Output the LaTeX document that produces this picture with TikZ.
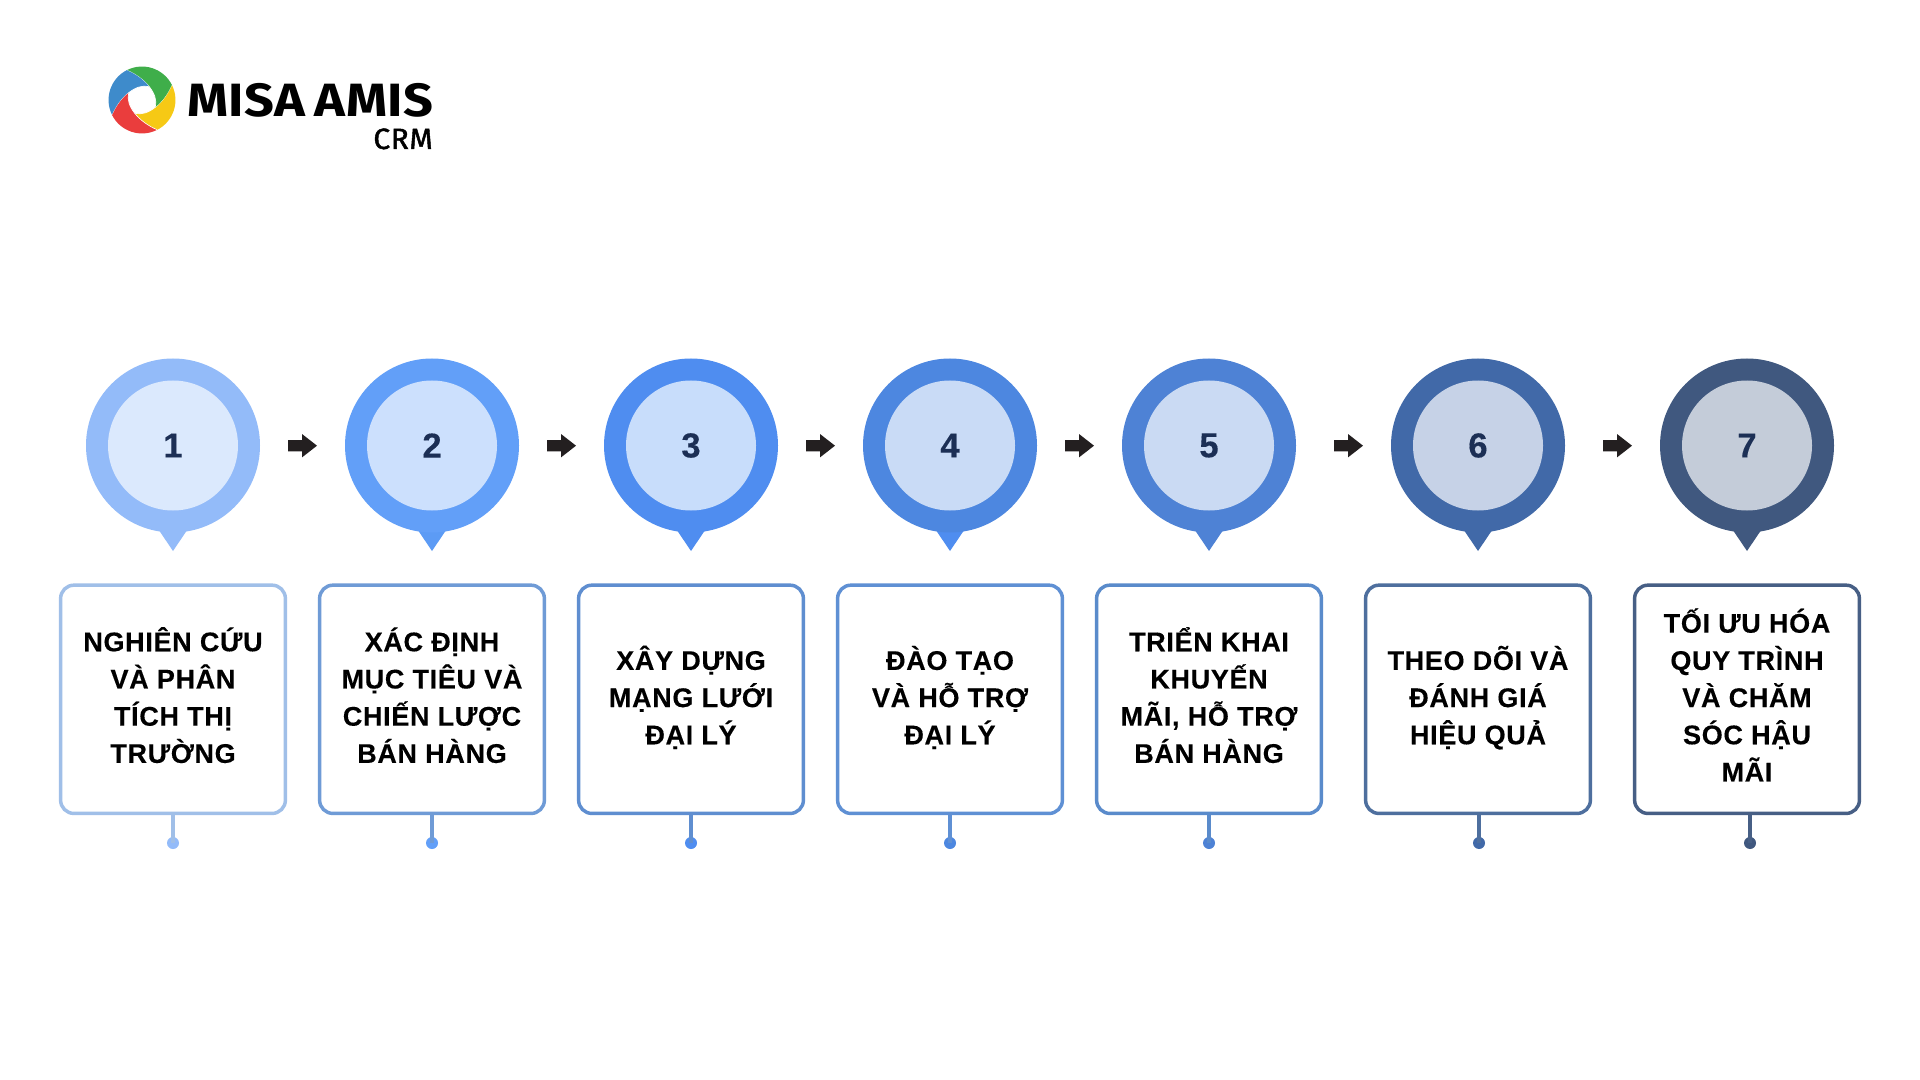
\documentclass[tikz,border=0pt]{standalone}
\usepackage{fontspec}
\setmainfont{Liberation Sans}[BoldFeatures={FakeBold=0.25}]
\newfontfamily\boxfont{Liberation Sans}[LetterSpace=2.5,BoldFeatures={FakeBold=0.25}]
\newfontfamily\logofont{Fira Sans}[FakeStretch=1.12,LetterSpace=1.2,WordSpace=0.7]
\newfontfamily\logosubfont{Fira Sans}[FakeBold=1.5,FakeStretch=1.02,LetterSpace=2]
\usetikzlibrary{calc}
\definecolor{ring1}{HTML}{93BBF9}\definecolor{inner1}{HTML}{DBE9FD}\definecolor{edge1}{HTML}{A0BFE8}\definecolor{tail1}{HTML}{93BBF9}
\definecolor{ring2}{HTML}{629FF8}\definecolor{inner2}{HTML}{CCE0FD}\definecolor{edge2}{HTML}{6F9BD6}\definecolor{tail2}{HTML}{5C9BF5}
\definecolor{ring3}{HTML}{4F8DF0}\definecolor{inner3}{HTML}{C8DDFB}\definecolor{edge3}{HTML}{5F8ED0}\definecolor{tail3}{HTML}{4F8DF0}
\definecolor{ring4}{HTML}{4D87E0}\definecolor{inner4}{HTML}{C9DBF6}\definecolor{edge4}{HTML}{5F90D4}\definecolor{tail4}{HTML}{4F8DF0}
\definecolor{ring5}{HTML}{4E82D5}\definecolor{inner5}{HTML}{CADAF3}\definecolor{edge5}{HTML}{5A8BCB}\definecolor{tail5}{HTML}{4E82D5}
\definecolor{ring6}{HTML}{4169A8}\definecolor{inner6}{HTML}{C6D2E7}\definecolor{edge6}{HTML}{4E6F9E}\definecolor{tail6}{HTML}{4169A8}
\definecolor{ring7}{HTML}{40587F}\definecolor{inner7}{HTML}{C4CCD9}\definecolor{edge7}{HTML}{475F85}\definecolor{tail7}{HTML}{40587F}
\definecolor{numink}{HTML}{1C2F55}
\definecolor{arrowink}{HTML}{231F20}
\definecolor{lgreen}{HTML}{3FAE4A}\definecolor{lblue}{HTML}{3E8BCB}\definecolor{lyellow}{HTML}{F6C915}\definecolor{lred}{HTML}{EA3D3D}
\tikzset{
  ringnode/.style={circle,inner sep=0pt,minimum size=130.5pt},
  innernode/.style={circle,inner sep=0pt,minimum size=97.5pt,text=numink,font=\bfseries\fontsize{26}{26}\selectfont},
  boxnode/.style={rectangle,draw,line width=2.6pt,rounded corners=10pt,fill=white,minimum width=168.6pt,minimum height=171.2pt,inner sep=0pt,align=center,text depth=0pt,font=\boxfont\bfseries\fontsize{20.25}{27.9}\selectfont,text=black},
  dotnode/.style={circle,inner sep=0pt,minimum size=9pt},
  stemline/.style={line width=2.7pt},
  blade/.pic={
    \fill[pic actions] (29.8,15.2) arc[start angle=27,end angle=-63,radius=33.5]
      .. controls (6.1,-25.9) and (-1.95,-19.95) .. (-7.16,-13.29)
      .. controls (6,-17) and (22,-3) .. (29.8,15.2) -- cycle;
    \draw[white,line width=.45pt] (-7.16,-13.29) .. controls (6,-17) and (22,-3) .. (29.8,15.2);
  }
}
\newcommand{\arrowglyph}[1]{\fill[arrowink] (#1,440) -- ++(14,0) -- ++(0,-6) -- ++(15,11.7) -- ++(-15,11.7) -- ++(0,-6) -- ++(-14,0) -- cycle;}
\begin{document}
\begin{tikzpicture}[x=.75pt,y=.75pt,yscale=-1]
\useasboundingbox (0,0) rectangle (1920,1080);
\fill[white] (0,0) rectangle (1920,1080);
% logo
\begin{scope}[shift={(142,100)},yscale=-1]
  \pic[fill=lyellow] at (0,0) {blade};
  \pic[fill=lgreen,rotate=90] at (0,0) {blade};
  \pic[fill=lblue,rotate=180] at (0,0) {blade};
  \pic[fill=lred,rotate=270] at (0,0) {blade};
\end{scope}
\node[anchor=base west,inner sep=0pt,font=\logofont\bfseries\fontsize{35}{35}\selectfont] (logotext) at (187,117) {MISA AMIS};
\node[anchor=base east,inner sep=0pt,font=\logosubfont\fontsize{22}{22}\selectfont] (logosub) at (433,149) {CRM};
% steps
\foreach \i/\cx/\dx/\th/\txt in {
 1/173/173/95.35/{NGHIÊN CỨU\\VÀ PHÂN\\TÍCH THỊ\\TRƯỜNG},
 2/432/432/95.35/{XÁC ĐỊNH\\MỤC TIÊU VÀ\\CHIẾN LƯỢC\\BÁN HÀNG},
 3/691/691/67.45/{XÂY DỰNG\\MẠNG LƯỚI\\ĐẠI LÝ},
 4/950/950/67.45/{ĐÀO TẠO\\VÀ HỖ TRỢ\\ĐẠI LÝ},
 5/1209/1209/95.35/{TRIỂN KHAI\\KHUYẾN\\MÃI, HỖ TRỢ\\BÁN HÀNG},
 6/1478/1479/67.45/{THEO DÕI VÀ\\ĐÁNH GIÁ\\HIỆU QUẢ},
 7/1747/1750/123.25/{TỐI ƯU HÓA\\QUY TRÌNH\\VÀ CHĂM\\SÓC HẬU\\MÃI}}{
  \fill[tail\i] (\cx-13.5,531) -- (\cx+13.5,531) -- (\cx,551) -- cycle;
  \node[ringnode,fill=ring\i] (o\i) at (\cx,445.5) {};
  \node[innernode,fill=inner\i] (i\i) at (o\i.center) {\i};
  \node[boxnode,draw=edge\i,text height=\th pt] (b\i) at (\cx,699.3) {\txt};
  \node[dotnode,fill=ring\i] (d\i) at (\dx,843) {};
  \draw[stemline,draw=edge\i] (b\i.south -| d\i.north) -- (d\i.center);
}
% arrows
\foreach \x in {288,547,806,1065,1334,1603}{\arrowglyph{\x}}
\end{tikzpicture}
\end{document}
